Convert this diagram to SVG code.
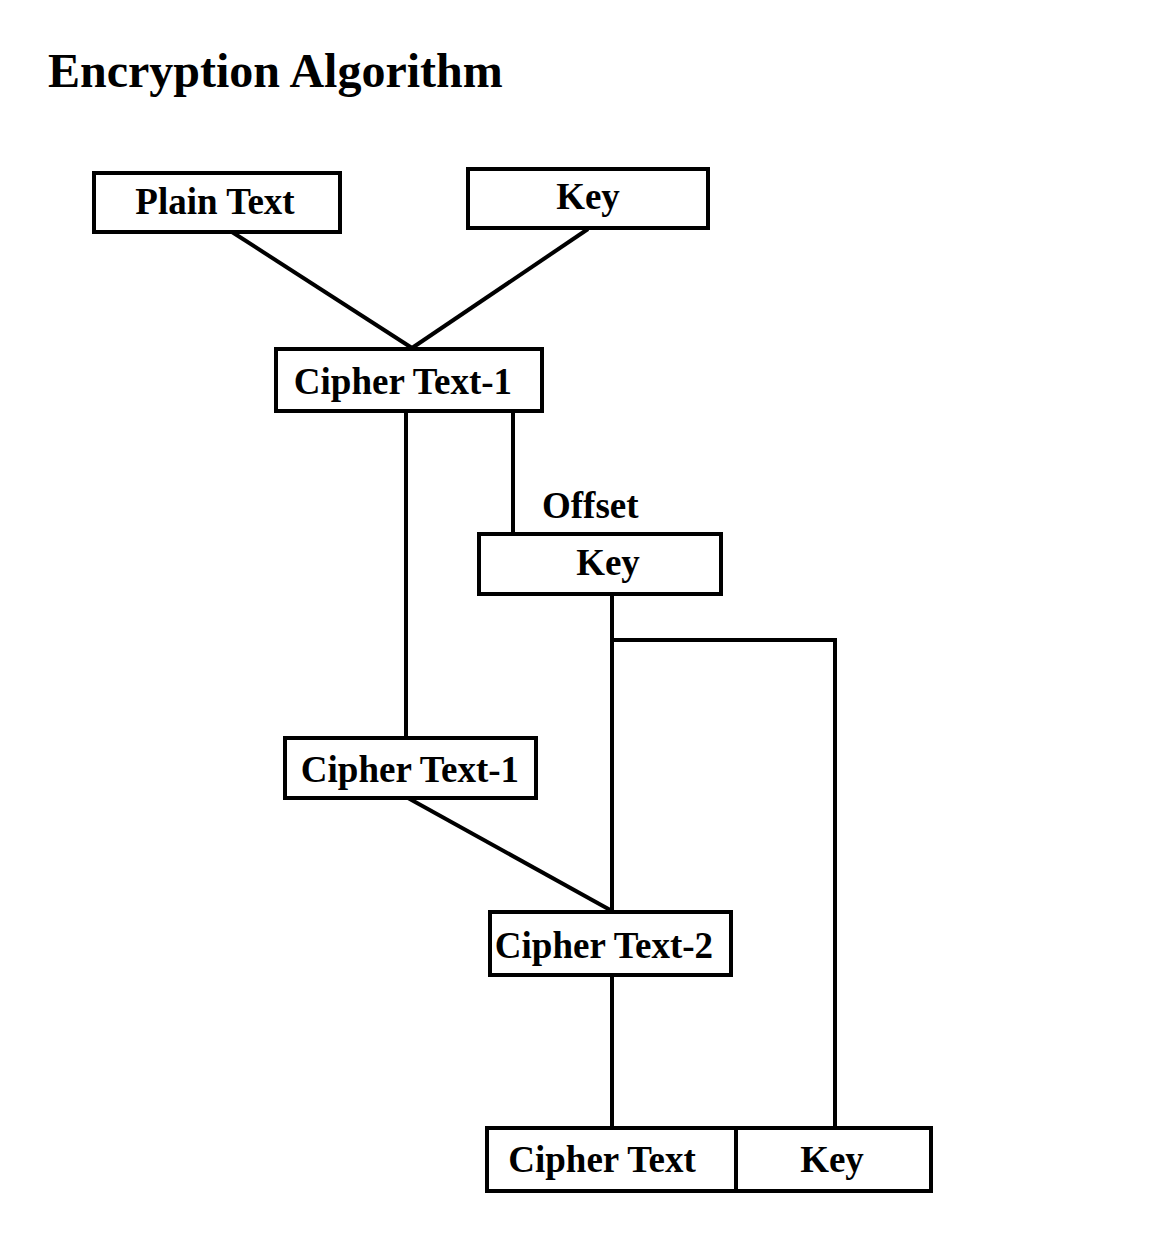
<svg xmlns="http://www.w3.org/2000/svg" width="1164" height="1252" viewBox="0 0 1164 1252">
<style>
.box{fill:#fff;stroke:#000;stroke-width:4}
.ln{stroke:#000;stroke-width:4;fill:none}
.t{font-family:"Liberation Serif","Times New Roman",serif;font-weight:bold;font-size:37px;fill:#000}
.c{text-anchor:middle}
</style>
<rect width="1164" height="1252" fill="#fff"/>
<text x="48" y="87" class="t" style="font-size:48px">Encryption Algorithm</text>
<g id="connectors">
<line class="ln" x1="232" y1="232" x2="412" y2="348"/>
<line class="ln" x1="588" y1="229" x2="412" y2="348"/>
<line class="ln" x1="406" y1="411" x2="406" y2="738"/>
<line class="ln" x1="513" y1="408" x2="513" y2="534"/>
<line class="ln" x1="612" y1="594" x2="612" y2="912"/>
<line class="ln" x1="612" y1="640" x2="835" y2="640"/>
<line class="ln" x1="835" y1="638" x2="835" y2="1128"/>
<line class="ln" x1="408" y1="798" x2="612" y2="911"/>
<line class="ln" x1="612" y1="975" x2="612" y2="1128"/>
</g>
<g id="plain-text"><rect class="box" x="94" y="173" width="246" height="59"/><text class="t c" x="215" y="214">Plain Text</text></g>
<g id="key-top"><rect class="box" x="468" y="169" width="240" height="59"/><text class="t c" x="588" y="209">Key</text></g>
<g id="cipher-text-1a"><rect class="box" x="276" y="349" width="266" height="62"/><text class="t c" x="403" y="394">Cipher Text-1</text></g>
<g id="offset-label"><text class="t" x="542" y="518">Offset</text></g>
<g id="key-offset"><rect class="box" x="479" y="534" width="242" height="60"/><text class="t c" x="608" y="575">Key</text></g>
<g id="cipher-text-1b"><rect class="box" x="285" y="738" width="251" height="60"/><text class="t c" x="410" y="782">Cipher Text-1</text></g>
<g id="cipher-text-2"><rect class="box" x="490" y="912" width="241" height="63"/><text class="t c" x="604" y="958">Cipher Text-2</text></g>
<g id="cipher-text-out"><rect class="box" x="487" y="1128" width="249" height="63"/><text class="t c" x="602" y="1172">Cipher Text</text></g>
<g id="key-out"><rect class="box" x="736" y="1128" width="195" height="63"/><text class="t c" x="832" y="1172">Key</text></g>
</svg>
